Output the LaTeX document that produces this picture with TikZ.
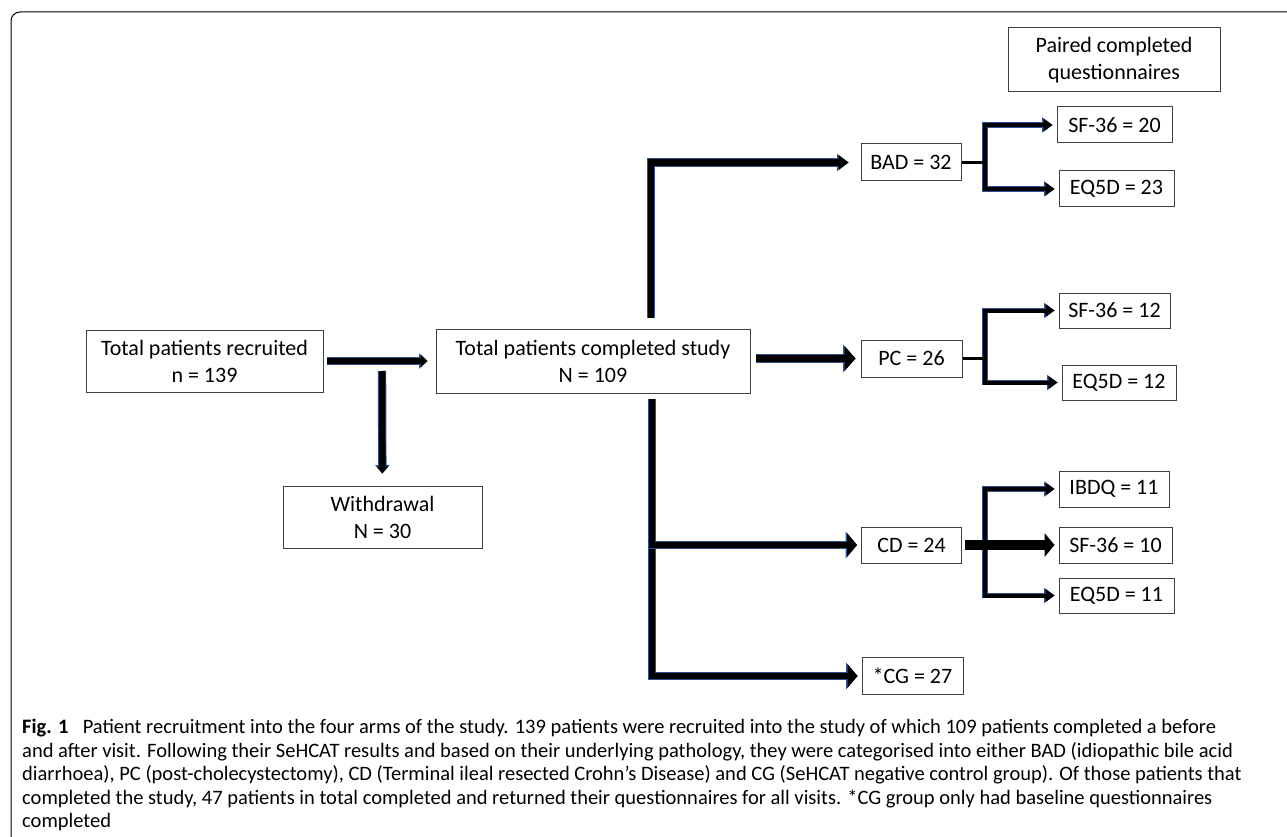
\documentclass[tikz,border=0pt]{standalone}
\usepackage{fontspec}
\setmainfont{Carlito}
\usetikzlibrary{arrows.meta}
\definecolor{edgeblue}{RGB}{47,82,143}
\definecolor{boxgray}{RGB}{64,64,64}

\begin{document}
\begin{tikzpicture}[x=1pt,y=-1pt,
    box/.style={draw=boxgray, line width=1pt, align=center, inner sep=0pt,
      font=\fontsize{22}{27}\selectfont},
    flow/.style n args={4}{line width=6.5pt,
      -{Triangle[length=#1,width=#2,line width=0pt]},
      preaction={draw=edgeblue, line width=8.4pt,
        -{Triangle[length=#3,width=#4,line width=0pt]}}},
    branch/.style={line width=4pt,
      {Triangle[length=9pt,width=13pt,line width=0pt]}-{Triangle[length=9pt,width=13pt,line width=0pt]},
      preaction={draw=edgeblue, line width=5.6pt,
        {Triangle[length=10.5pt,width=15.5pt,line width=0pt]}-{Triangle[length=10.5pt,width=15.5pt,line width=0pt]}}},
    stub/.style={line width=3pt},
    caption/.style={align=left, inner sep=0pt, font=\fontsize{20.5}{23.5}\selectfont}
  ]

    \useasboundingbox (0,0) rectangle (1287,837);
    \draw[line width=1pt, rounded corners=9pt] (11,837) -- (11,12) -- (1287,12);

    % boxes
    \node[box, minimum width=237pt, minimum height=62pt] (recruited) at (204.5,361) {Total patients recruited\\n = 139};
    \node[box, minimum width=314pt, minimum height=64pt] (completed) at (593,361) {Total patients completed study\\N = 109};
    \node[box, minimum width=199pt, minimum height=62pt] (withdrawal) at (382.5,517) {Withdrawal\\N = 30};

    \node[box, minimum width=100pt, minimum height=37pt] (bad) at (911,162.5) {BAD = 32};
    \node[box, minimum width=101pt, minimum height=37pt] (pc) at (911.5,358.5) {PC = 26};
    \node[box, minimum width=100pt, minimum height=36pt] (cd) at (911.5,545) {CD = 24};
    \node[box, minimum width=101pt, minimum height=37pt] (cg) at (912.5,676) {*CG = 27};

    \node[box, minimum width=212pt, minimum height=64pt] (paired) at (1114,60) {Paired completed\\questionnaires};
    \node[box, minimum width=115pt, minimum height=36pt] (sfA) at (1114.5,125) {SF-36 = 20};
    \node[box, minimum width=115pt, minimum height=36pt] (eqA) at (1116.5,189) {EQ5D = 23};
    \node[box, minimum width=111pt, minimum height=35pt] (sfB) at (1114.5,310.5) {SF-36 = 12};
    \node[box, minimum width=114pt, minimum height=35pt] (eqB) at (1119,382.5) {EQ5D = 12};
    \node[box, minimum width=110pt, minimum height=36pt] (ibdq) at (1114,489) {IBDQ = 11};
    \node[box, minimum width=113pt, minimum height=36pt] (sfC) at (1115.5,545) {SF-36 = 10};
    \node[box, minimum width=115pt, minimum height=35pt] (eqC) at (1116.5,595.5) {EQ5D = 11};

    % split and junction points
    \coordinate (split) at (382,371);
    \coordinate (upA) at (651,318);
    \coordinate (lowA) at (652,399);
    \coordinate (jA) at (985,162.5);
    \coordinate (jB) at (985,358.5);
    \coordinate (jC) at (985,545);

    % main flow
    \draw[flow={7pt}{13pt}{8.5pt}{15.5pt}, shorten <=3pt, shorten >=8pt] (recruited) -- (completed);
    \draw[flow={7pt}{12pt}{8.5pt}{14.5pt}, shorten >=12pt] (split) -- (withdrawal);
    \draw[flow={10pt}{15pt}{11.5pt}{17.5pt}, shorten >=12pt] (upA) |- (bad);
    \draw[flow={10pt}{24pt}{11.5pt}{27pt}, shorten >=4pt] (lowA) |- (cg);
    \draw[flow={10pt}{24pt}{11.5pt}{27pt}, shorten >=4pt] (lowA) |- (cd);
    \draw[flow={11pt}{25pt}{12.5pt}{28pt}, shorten <=5pt, shorten >=5pt] (completed.east |- pc.west) -- (pc.west);

    % questionnaires
    \draw[branch, shorten <=4pt, shorten >=4pt] (sfA) -| (jA) |- (eqA);
    \draw[stub] (bad) -- (jA);
    \draw[branch, shorten <=4pt, shorten >=4pt] (sfB) -| (jB) |- (eqB);
    \draw[stub] (pc) -- (jB);
    \draw[branch, shorten <=4pt, shorten >=4pt] (ibdq) -| (jC) |- (eqC);
    \draw[line width=10pt, -{Triangle[length=10pt,width=24pt,line width=0pt]}, shorten <=3pt, shorten >=4pt] (cd) -- (sfC);

    \node[caption, anchor=north west] (figcap) at (22,719) {\textbf{Fig. 1}\hspace{0.7em}Patient recruitment into the four arms of the study. 139 patients were recruited into the study of which 109 patients completed a before\\
      and after visit. Following their SeHCAT results and based on their underlying pathology, they were categorised into either BAD (idiopathic bile acid\\
      diarrhoea), PC (post-cholecystectomy), CD (Terminal ileal resected Crohn’s Disease) and CG (SeHCAT negative control group). Of those patients that\\
      completed the study, 47 patients in total completed and returned their questionnaires for all visits. *CG group only had baseline questionnaires\\
      completed};
  \end{tikzpicture}
\end{document}
